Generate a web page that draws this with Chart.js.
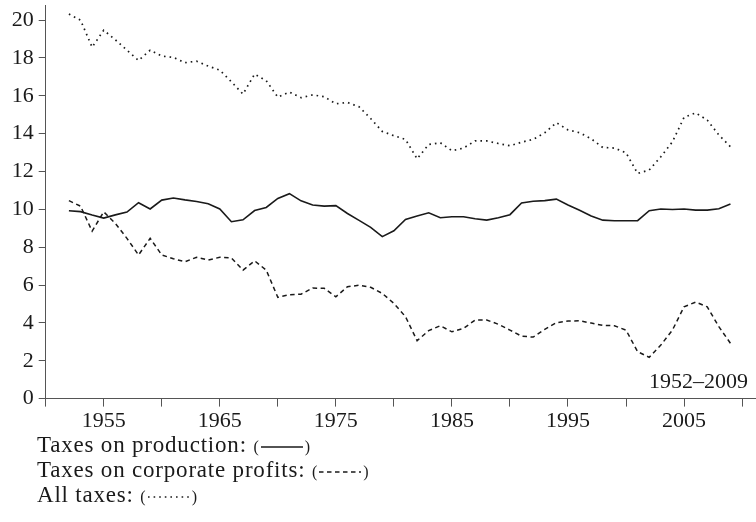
<!DOCTYPE html>
<html>
<head>
<meta charset="utf-8">
<title>Taxes 1952–2009</title>
<script src="https://cdn.jsdelivr.net/npm/chart.js@4.4.1/dist/chart.umd.min.js"></script>
<style>
    html, body { margin: 0; padding: 0; background: #fff; }
    #wrap { position: relative; width: 756px; height: 522px; overflow: hidden; }
    #wrap canvas { position: absolute; left: 0; top: 0; }
    #legend {
        position: absolute; left: 37px; top: 433px;
        font-family: 'Liberation Serif', serif; font-size: 23px; line-height: 23px;
        letter-spacing: 0.8px; color: #1a1a1a; white-space: nowrap;
    }
    #legend .paren { font-size: 16px; letter-spacing: 0; }
    #legend svg { vertical-align: middle; margin: 0 2px; }
</style>
</head>
<body>
<div id="wrap">
    <canvas id="taxChart" width="756" height="522"></canvas>
    <div id="legend"></div>
</div>
<script>
// Years on the x axis
const years = [
    1952, 1953, 1954, 1955, 1956, 1957, 1958, 1959, 1960, 1961,
    1962, 1963, 1964, 1965, 1966, 1967, 1968, 1969, 1970, 1971,
    1972, 1973, 1974, 1975, 1976, 1977, 1978, 1979, 1980, 1981,
    1982, 1983, 1984, 1985, 1986, 1987, 1988, 1989, 1990, 1991,
    1992, 1993, 1994, 1995, 1996, 1997, 1998, 1999, 2000, 2001,
    2002, 2003, 2004, 2005, 2006, 2007, 2008, 2009
];

// Series values
const productionTaxes = [
    9.93, 9.88, 9.70, 9.54, 9.71, 9.86, 10.35, 10.02, 10.49, 10.60,
    10.50, 10.42, 10.30, 10.02, 9.35, 9.45, 9.94, 10.10, 10.58, 10.83,
    10.45, 10.23, 10.17, 10.20, 9.78, 9.42, 9.05, 8.56, 8.87, 9.47,
    9.65, 9.82, 9.56, 9.61, 9.61, 9.50, 9.43, 9.56, 9.72, 10.34,
    10.43, 10.46, 10.54, 10.23, 9.95, 9.65, 9.43, 9.40, 9.40, 9.40,
    9.93, 10.02, 9.99, 10.02, 9.96, 9.96, 10.03, 10.28
];

const corporateTaxes = [
    10.46, 10.17, 8.85, 9.87, 9.26, 8.47, 7.59, 8.47, 7.59, 7.39,
    7.23, 7.47, 7.32, 7.47, 7.43, 6.79, 7.28, 6.79, 5.35, 5.49,
    5.52, 5.84, 5.83, 5.38, 5.91, 5.99, 5.88, 5.56, 5.03, 4.33,
    3.06, 3.59, 3.85, 3.53, 3.71, 4.15, 4.15, 3.93, 3.62, 3.30,
    3.25, 3.66, 4.01, 4.10, 4.11, 3.99, 3.87, 3.85, 3.62, 2.48,
    2.18, 2.83, 3.62, 4.85, 5.10, 4.85, 3.80, 2.92
];

const allTaxes = [
    20.32, 20.00, 18.57, 19.47, 18.96, 18.41, 17.87, 18.41, 18.10, 18.03,
    17.75, 17.83, 17.57, 17.36, 16.74, 16.09, 17.15, 16.80, 15.93, 16.20,
    15.90, 16.05, 15.95, 15.58, 15.65, 15.42, 14.80, 14.12, 13.89, 13.70,
    12.67, 13.43, 13.52, 13.10, 13.24, 13.62, 13.62, 13.48, 13.36, 13.55,
    13.70, 14.05, 14.58, 14.20, 14.05, 13.73, 13.27, 13.24, 12.99, 11.90,
    12.08, 12.78, 13.57, 14.86, 15.10, 14.72, 13.93, 13.31
];

const seriesNames = ['Taxes on production:', 'Taxes on corporate profits:', 'All taxes:'];

// Tick positions and labels
const xTickYears = [1950, 1955, 1960, 1965, 1970, 1975, 1980, 1985, 1990, 1995, 2000, 2005, 2010];
const xLabelYears = [1955, 1965, 1975, 1985, 1995, 2005];
const yTickValues = [0, 2, 4, 6, 8, 10, 12, 14, 16, 18, 20];
const periodText = '1952–2009';

document.addEventListener('DOMContentLoaded', () => {
    Chart.defaults.font.family = "'Liberation Serif', serif";
    Chart.defaults.font.size = 22;
    Chart.defaults.color = '#1a1a1a';

    const axisColor = '#555';
    const lineColor = '#1a1a1a';

    const toPoints = (vals) => years.map((yr, i) => ({ x: yr, y: vals[i] }));

    // dash patterns for the three series (used for chart + legend)
    const dashes = [[], [4.5, 3.5], [1.6, 4.0]];
    const widths = [1.6, 1.5, 1.7];
    const seriesValues = [productionTaxes, corporateTaxes, allTaxes];

    // "1952–2009" note in the lower right corner of the plot
    const periodLabel = {
        id: 'periodLabel',
        afterDraw(chart) {
            const { ctx, chartArea } = chart;
            ctx.save();
            ctx.font = "22px 'Liberation Serif', serif";
            ctx.fillStyle = lineColor;
            ctx.textAlign = 'right';
            ctx.textBaseline = 'alphabetic';
            ctx.fillText(periodText, chartArea.right - 8, chartArea.bottom - 11);
            ctx.restore();
        }
    };

    const ctx = document.getElementById('taxChart').getContext('2d');
    new Chart(ctx, {
        type: 'line',
        data: {
            datasets: seriesValues.map((vals, i) => ({
                label: seriesNames[i],
                data: toPoints(vals),
                borderColor: lineColor,
                borderWidth: widths[i],
                borderDash: dashes[i],
                pointRadius: 0,
                tension: 0,
                fill: false
            }))
        },
        options: {
            responsive: false,
            animation: false,
            devicePixelRatio: 1,
            layout: { padding: { top: 5, left: 0, right: 0, bottom: 0 } },
            plugins: {
                legend: { display: false },
                tooltip: { enabled: false }
            },
            scales: {
                x: {
                    type: 'linear',
                    min: 1950,
                    max: 2011.2,
                    grid: { drawOnChartArea: false, drawTicks: true, tickLength: 8, color: axisColor },
                    border: { display: true, color: axisColor, width: 1 },
                    afterBuildTicks: (scale) => {
                        scale.ticks = xTickYears.map(v => ({ value: v }));
                    },
                    ticks: {
                        autoSkip: false,
                        maxRotation: 0,
                        padding: 1,
                        callback: (v) => xLabelYears.includes(v) ? String(v) : ''
                    },
                    afterFit: (scale) => {
                        scale.height = 123.4;
                        scale.paddingLeft = 0;
                        scale.paddingRight = 0;
                    }
                },
                y: {
                    min: 0,
                    max: 20.8,
                    grid: { drawOnChartArea: false, drawTicks: true, tickLength: 7, color: axisColor },
                    border: { display: true, color: axisColor, width: 1 },
                    afterBuildTicks: (scale) => {
                        scale.ticks = yTickValues.map(v => ({ value: v }));
                    },
                    ticks: { padding: 5 },
                    afterFit: (scale) => {
                        scale.width = 45.7;
                        scale.paddingTop = 0;
                        scale.paddingBottom = 0;
                    }
                }
            }
        },
        plugins: [periodLabel]
    });

    // Legend below the plot: "Name: (sample)"
    const legend = document.getElementById('legend');
    seriesNames.forEach((name, i) => {
        const row = document.createElement('div');
        row.appendChild(document.createTextNode(name + ' '));
        const open = document.createElement('span');
        open.className = 'paren';
        open.textContent = '(';
        row.appendChild(open);

        const svgNS = 'http://www.w3.org/2000/svg';
        const svg = document.createElementNS(svgNS, 'svg');
        svg.setAttribute('width', '42');
        svg.setAttribute('height', '8');
        const line = document.createElementNS(svgNS, 'line');
        line.setAttribute('x1', '0');
        line.setAttribute('x2', '42');
        line.setAttribute('y1', '4');
        line.setAttribute('y2', '4');
        line.setAttribute('stroke', lineColor);
        line.setAttribute('stroke-width', String(widths[i]));
        if (dashes[i].length) line.setAttribute('stroke-dasharray', dashes[i].join(' '));
        svg.appendChild(line);
        row.appendChild(svg);

        const close = document.createElement('span');
        close.className = 'paren';
        close.textContent = ')';
        row.appendChild(close);
        legend.appendChild(row);
    });
});
</script>
</body>
</html>
